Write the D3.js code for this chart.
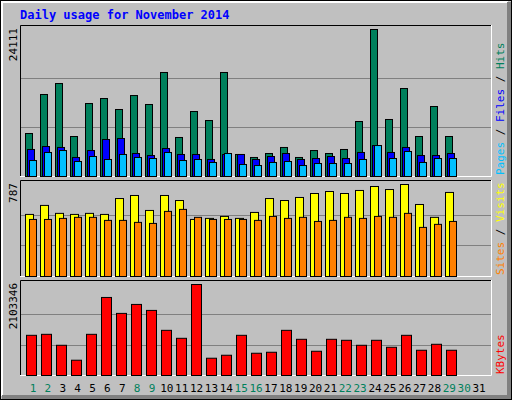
<!DOCTYPE html>
<html><head><meta charset="utf-8">
<script src="https://cdn.jsdelivr.net/npm/d3@7"></script>
<style>body{margin:0;background:#fff}</style>
</head><body>
<div id="graph-container"></div>
<script>
const days = d3.range(1, 31);
const dayLabels = d3.range(1, 32);
const weekend = [1, 2, 8, 9, 15, 16, 22, 23, 29, 30];

const hits = [7052,13450,15250,6560,11970,12790,10990,13280,11810,17060,6400,10660,9180,17060,3610,3120,3770,4760,3120,4260,3770,4430,9020,24111,9350,14430,6560,11480,6560,0];
const files = [4430,4920,4760,3120,4260,6070,6230,3770,3440,4590,3610,3610,2790,3610,3610,2790,3280,3770,2790,2950,3280,2950,3940,5080,3940,4760,3440,3440,3770,0];
const pages = [2620,3940,4260,2460,3280,2790,3610,3120,2950,3940,2620,2790,2300,3770,1970,1800,2300,2460,1800,2130,2130,2130,2790,5080,2950,4100,2300,2950,2950,0];
const visits = [531,608,540,531,540,531,667,693,565,693,650,488,497,514,497,548,667,650,676,710,727,710,736,770,744,787,616,506,719,0];
const sites = [488,488,497,506,506,480,480,463,454,557,574,506,488,488,488,480,514,497,506,471,480,506,497,514,506,540,420,446,471,0];
const kbytes = [928800,951800,698500,353100,951800,1803900,1435400,1642700,1504500,1043900,859700,2103346,399200,468200,928800,514300,537300,1043900,836700,560300,836700,813700,698500,813700,652500,928800,583400,721500,583400,0];

const W = 512, H = 400, L = 20, R = 491;
const font = "'DejaVu Sans Mono', monospace";

let svg = d3.select("#graph-container").append("svg")
  .attr("width", W).attr("height", H);

// background + bevel
svg.append("rect").attr("width", W).attr("height", H).attr("fill", "#c0c0c0");
svg.append("rect").attr("x", 0.5).attr("y", 0.5).attr("width", W - 1).attr("height", H - 1)
  .attr("fill", "none").attr("stroke", "#000");
svg.append("path").attr("d", `M2,${H-4}V2H${W-4}`).attr("stroke", "#fff").attr("stroke-width", 2).attr("fill", "none");
svg.append("path").attr("d", `M${W-3},2V${H-3}H2`).attr("stroke", "#808080").attr("stroke-width", 4).attr("fill", "none");

svg.append("text").attr("x", 20).attr("y", 19).text("Daily usage for November 2014")
  .attr("font-family", font).attr("font-weight", "bold").attr("font-size", 12).attr("fill", "#0000ff");

let x = d3.scaleLinear().domain([1, 31]).range([25, 475]);

function panel(top, bottom, maxY, maxLabel, series, labels) {
  let y = d3.scaleLinear().domain([0, maxY]).range([bottom, top + 4]);
  svg.append("rect").attr("x", L).attr("y", top).attr("width", R - L).attr("height", bottom - top)
    .attr("fill", "#c0c0c0");
  [1 / 3, 2 / 3].forEach(f => {
    let gy = Math.round(bottom - (bottom - top - 4) * f) + 0.5;
    svg.append("line").attr("x1", L).attr("x2", R).attr("y1", gy).attr("y2", gy)
      .attr("stroke", "#808080").attr("stroke-width", 1);
  });
  svg.append("path").attr("d", `M${L+0.5},${bottom}V${top+0.5}H${R}`).attr("stroke", "#000").attr("fill", "none");
  svg.append("path").attr("d", `M${R+0.5},${top}V${bottom+0.5}H${L}`).attr("stroke", "#fff").attr("fill", "none");

  series.forEach(s => {
    svg.append("g").selectAll("rect").data(days).enter().append("rect")
      .attr("x", d => x(d) + s.off + 0.5)
      .attr("y", d => y(s.values[d - 1]) + 0.5)
      .attr("width", s.w)
      .attr("height", d => bottom - y(s.values[d - 1]))
      .attr("fill", s.color).attr("stroke", "#000")
      .attr("stroke-width", d => s.values[d - 1] === 0 ? 2 : 1);
  });

  svg.append("text").attr("transform", `translate(${L - 3},${top + 3}) rotate(-90)`)
    .attr("text-anchor", "end").attr("font-family", font).attr("font-size", 11).text(maxLabel);

  let t = svg.append("text").attr("transform", `translate(${R + 13},${bottom - 1}) rotate(-90)`)
    .attr("font-family", font).attr("font-size", 11);
  labels.forEach((l, i) => {
    if (i > 0) t.append("tspan").attr("fill", "#000").text(" / ");
    t.append("tspan").attr("fill", l.color).text(l.text);
  });
}

panel(25, 176, 24111, "24111", [
  { values: hits, color: "#00805c", off: 0, w: 7 },
  { values: files, color: "#0000ff", off: 2, w: 7 },
  { values: pages, color: "#00c0ff", off: 4, w: 7 }
], [{ text: "Pages", color: "#00c0ff" }, { text: "Files", color: "#0000ff" }, { text: "Hits", color: "#00805c" }]);

panel(180, 276, 787, "787", [
  { values: visits, color: "#ffff00", off: 0, w: 8 },
  { values: sites, color: "#ff8000", off: 4, w: 7 }
], [{ text: "Sites", color: "#ff8000" }, { text: "Visits", color: "#ffff00" }]);

panel(280, 375, 2103346, "2103346", [
  { values: kbytes, color: "#ff0000", off: 1, w: 10 }
], [{ text: "KBytes", color: "#ff0000" }]);

svg.append("g").selectAll("text").data(dayLabels).enter().append("text")
  .attr("x", d => 33 + (d - 1) * 14.87).attr("y", 392)
  .attr("text-anchor", "middle").attr("font-family", font).attr("font-size", 11)
  .attr("fill", d => weekend.includes(d) ? "#00805c" : "#000")
  .text(d => d);
</script>
</body></html>
